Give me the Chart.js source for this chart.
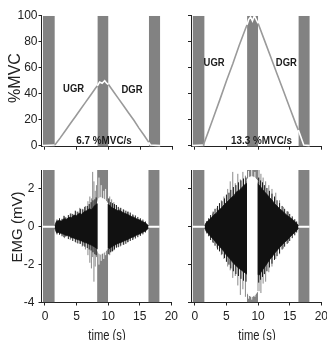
<!DOCTYPE html>
<html><head><meta charset="utf-8">
<script src="https://cdn.jsdelivr.net/npm/chart.js@4/dist/chart.umd.min.js"></script>
<style>
html,body{margin:0;padding:0;background:#fff;overflow:hidden;}
#wrap{position:relative;width:327px;height:340px;overflow:hidden;background:#fff;}
canvas{position:absolute;}
.lbl{position:absolute;color:#222;white-space:nowrap;line-height:1;transform:translate(-50%,-50%);}
.rot{transform:translate(-50%,-50%) rotate(-90deg);}
.nar{transform:translate(-50%,-50%) scaleX(0.8);}
</style></head><body>
<div id="wrap">
<canvas id="tl" width="182" height="160" style="left:0;top:0"></canvas>
<canvas id="tr" width="182" height="160" style="left:150px;top:0"></canvas>
<canvas id="bl" width="182" height="186" style="left:0;top:155px"></canvas>
<canvas id="br" width="182" height="186" style="left:150px;top:155px"></canvas>
<div class="lbl rot" style="left:14.5px;top:78px;font:16px 'Liberation Sans',Arial,sans-serif;">%MVC</div>
<div class="lbl rot" style="left:15.5px;top:227px;font:15px 'Liberation Sans',Arial,sans-serif;">EMG (mV)</div>
<div class="lbl nar" style="left:107px;top:334.5px;font:14px 'Liberation Sans',Arial,sans-serif;">time (s)</div>
<div class="lbl nar" style="left:257px;top:334.5px;font:14px 'Liberation Sans',Arial,sans-serif;">time (s)</div>
</div>
<script>
// ---------- data ----------
const xTicks = [0, 5, 10, 15, 20];
const mvcTicks = [0, 20, 40, 60, 80, 100];
const emgTicks = [-4, -2, 0, 2];
const restWindows = [[-0.35, 1.55], [8.25, 10.0], [16.35, 18.15]]; // s

// force, 6.7 %MVC/s
const forceTimeSlow = [-0.35, 1.55, 2.4, 3.2, 4.0, 4.8, 5.6, 6.4, 7.2, 8.0, 8.25, 8.6, 9.0, 9.4, 9.7, 10.0, 10.8, 11.6, 12.4, 13.2, 14.0, 14.8, 15.6, 16.35, 16.6, 18.15];
const forceSlow     = [0, 0.5, 6, 11.5, 17, 22.5, 28, 33.5, 39, 44.5, 46, 49, 48, 50, 48, 47, 41.5, 36, 30.5, 25, 19.5, 13.5, 8, 2.5, 0.5, 0];
// force, 13.3 %MVC/s
const forceTimeFast = [-0.4, 1.35, 2.0, 3.0, 4.0, 5.0, 6.0, 7.0, 8.0, 8.25, 8.5, 8.8, 9.1, 9.4, 9.7, 10.0, 11.0, 12.0, 13.0, 14.0, 15.0, 16.0, 16.35, 17.2, 18.15];
const forceFast     = [0, 0.5, 9, 22.5, 36, 50, 63, 77, 90, 93, 97, 99, 96, 100, 97, 94, 81, 68, 55, 42, 29, 16, 12, 0.5, 0];

// EMG envelopes (mV)
const emgTime = [1.55,1.8,2.2,2.6,3.0,3.4,3.8,4.2,4.6,5.0,5.4,5.8,6.2,6.6,7.0,7.4,7.8,8.2,8.6,9.0,9.4,9.8,10.2,10.6,11.0,11.4,11.8,12.2,12.6,13.0,13.4,13.8,14.2,14.6,15.0,15.4,15.8,16.2,16.45];
const emgTopSlow = [0.05,0.28,0.33,0.3,0.42,0.4,0.5,0.48,0.62,0.58,0.72,0.66,0.8,0.85,0.95,0.9,1.1,1.2,1.2,1.2,1.2,1.2,1.15,1.0,0.95,0.85,0.88,0.78,0.72,0.66,0.6,0.52,0.48,0.4,0.36,0.28,0.22,0.12,0.03];
const emgBotSlow = [-0.05,-0.3,-0.3,-0.36,-0.4,-0.46,-0.48,-0.56,-0.6,-0.66,-0.7,-0.75,-0.82,-0.86,-0.92,-0.98,-1.05,-1.15,-1.2,-1.2,-1.2,-1.2,-1.15,-1.05,-0.98,-0.9,-0.85,-0.8,-0.74,-0.68,-0.62,-0.55,-0.5,-0.42,-0.38,-0.3,-0.24,-0.14,-0.03];
const emgTopFast = [0.05,0.22,0.35,0.48,0.62,0.72,0.9,0.98,1.15,1.28,1.4,1.55,1.65,1.85,1.92,2.05,2.2,2.3,2.3,2.3,2.3,2.3,2.2,2.02,1.85,1.72,1.55,1.42,1.22,1.1,0.95,0.85,0.72,0.6,0.5,0.4,0.28,0.15,0.03];
const emgBotFast = [-0.05,-0.24,-0.38,-0.55,-0.68,-0.85,-1.0,-1.15,-1.3,-1.5,-1.62,-1.8,-1.95,-2.08,-2.2,-2.3,-2.4,-2.5,-2.5,-2.5,-2.5,-2.5,-2.55,-2.32,-2.15,-1.95,-1.75,-1.6,-1.4,-1.25,-1.1,-0.95,-0.82,-0.7,-0.55,-0.42,-0.3,-0.16,-0.03];

// dark EMG bursts just beyond the dense band [time, low, high]
const burstsSlow = [[1.9,-0.4,0.38],[2.3,-0.42,0.45],[2.7,-0.5,0.42],[3.0,-0.55,0.58],[3.3,-0.52,0.5],[3.7,-0.65,0.62],[4.1,-0.62,0.7],[4.4,-0.75,0.68],[4.8,-0.8,0.85],[5.2,-0.88,0.8],[5.6,-0.9,0.95],[6.0,-1.0,0.92],[6.3,-1.05,1.05],[6.7,-1.12,1.1],[7.0,-1.2,1.2],[7.3,-1.25,1.3],[7.6,-1.35,1.4],[7.9,-1.45,1.45],[8.1,-1.5,1.55],[10.1,-1.45,1.5],[10.4,-1.35,1.3],[10.7,-1.3,1.25],[11.0,-1.2,1.2],[11.3,-1.1,1.15],[11.6,-1.08,1.05],[12.0,-1.0,1.0],[12.4,-0.95,0.92],[12.8,-0.9,0.85],[13.1,-0.82,0.8],[13.5,-0.75,0.75],[13.9,-0.7,0.65],[14.3,-0.62,0.6],[14.7,-0.55,0.52],[15.1,-0.48,0.45],[15.5,-0.4,0.38],[15.9,-0.3,0.28]];
const burstsFast = [[1.9,-0.35,0.3],[2.2,-0.5,0.45],[2.5,-0.7,0.62],[2.9,-0.85,0.8],[3.2,-1.0,0.95],[3.6,-1.2,1.1],[3.9,-1.3,1.25],[4.3,-1.45,1.35],[4.7,-1.65,1.5],[5.0,-1.85,1.7],[5.4,-2.0,1.8],[5.7,-2.2,1.95],[6.1,-2.35,2.1],[6.5,-2.5,2.2],[6.9,-2.6,2.35],[7.3,-2.75,2.45],[7.7,-2.85,2.55],[8.1,-2.9,2.6],[10.1,-2.95,2.6],[10.4,-2.8,2.45],[10.7,-2.65,2.35],[11.0,-2.5,2.2],[11.4,-2.35,2.05],[11.8,-2.15,1.9],[12.2,-1.95,1.75],[12.6,-1.75,1.6],[13.0,-1.55,1.4],[13.4,-1.4,1.25],[13.8,-1.2,1.1],[14.2,-1.05,0.95],[14.6,-0.9,0.82],[15.0,-0.75,0.68],[15.4,-0.6,0.55],[15.8,-0.45,0.4],[16.1,-0.3,0.28]];

// large single EMG spikes [time, low, high]
const spikesSlow = [[3.1,-0.6,0.55],[4.0,-0.7,0.7],[4.9,-0.85,0.8],[5.5,-0.9,1.0],[5.9,-1.05,0.95],[6.4,-1.2,1.1],[6.8,-1.5,1.35],[7.1,-1.9,1.6],[7.35,-2.2,1.5],[7.55,-1.6,2.9],[7.75,-2.9,2.4],[7.95,-2.1,1.9],[8.15,-1.6,2.2],[10.25,-1.5,1.6],[10.55,-1.3,1.45],[10.9,-1.25,1.3],[11.3,-1.1,1.15],[11.9,-1.05,1.0],[12.5,-0.95,0.9],[13.2,-0.8,0.8],[14.0,-0.62,0.6]];
const spikesFast = [[2.8,-0.8,0.7],[3.5,-1.1,1.0],[4.2,-1.5,1.4],[4.6,-1.7,1.6],[5.2,-2.1,2.0],[5.6,-2.3,2.4],[6.0,-2.7,2.9],[6.4,-2.6,2.3],[6.8,-3.1,2.8],[7.2,-3.6,2.5],[7.6,-3.3,2.9],[8.0,-3.7,2.7],[10.15,-3.4,3.0],[10.45,-3.5,2.8],[10.8,-3.0,2.6],[11.2,-2.9,2.4],[11.7,-2.4,2.2],[12.2,-2.1,2.0],[12.8,-1.7,1.8],[13.4,-1.45,1.4],[14.0,-1.15,1.05],[14.8,-0.85,0.8]];

// EMG inside the middle rest window
const midTimeSlow = [8.3, 8.5, 8.8, 9.1, 9.4, 9.7, 9.95];
const midTopSlow  = [1.25, 1.5, 1.55, 1.5, 1.45, 1.35, 1.2];
const midBotSlow  = [-1.2, -1.4, -1.45, -1.4, -1.35, -1.25, -1.15];
const midSpikesSlow = [[8.55,-2.0,2.6],[8.9,-1.8,2.2],[9.3,-1.7,1.9],[9.6,-1.5,2.0]];
const midTimeFast = [8.25, 8.5, 9.0, 9.5, 9.95];
const midTopFast  = [2.45, 2.6, 2.65, 2.6, 2.4];
const midBotFast  = [-3.45, -3.6, -3.7, -3.6, -3.4];
const midSpikesFast = [[8.5,-3.8,2.95],[9.0,-3.85,3.0],[9.5,-3.7,2.9]];

// ---------- helpers ----------
const FONT = "'Liberation Sans', Arial, sans-serif";
const BAR = '#828282';
const AX = '#222';
const pts = (xs, ys) => xs.map((x, i) => ({x, y: ys[i]}));
const spikePts = sp => sp.flatMap(([t, lo, hi]) => [{x: t, y: lo}, {x: t, y: hi}, {x: t, y: null}]);
const inRest = t => restWindows.some(([a, b]) => t >= a && t <= b);

const annot = {
  id: 'annot',
  afterDatasetsDraw(chart, args, opts) {
    const {ctx, scales: {x, y}} = chart;
    (opts.items || []).forEach(it => {
      ctx.save();
      ctx.font = it.font;
      ctx.fillStyle = '#1a1a1a';
      ctx.textAlign = 'center';
      ctx.textBaseline = 'middle';
      const px = x.getPixelForValue(it.x), py = y.getPixelForValue(it.y);
      ctx.translate(px, py);
      ctx.scale(0.86, 1);
      ctx.fillText(it.text, 0, 0);
      ctx.restore();
    });
  }
};

function barSets(top) {
  return restWindows.map(([a, b]) => ({
    data: [{x: a, y: top}, {x: b, y: top}], showLine: true, borderWidth: 0, borderColor: BAR,
    backgroundColor: BAR, fill: 'start', order: 10
  }));
}

function forceSet(ts, vs) {
  return {
    data: pts(ts, vs), showLine: true, borderWidth: 1.6, borderColor: '#9a9a9a', fill: false, order: 1,
    segment: {borderColor: c => inRest((c.p0.parsed.x + c.p1.parsed.x) / 2) ? '#ffffff' : '#9a9a9a'}
  };
}

function emgSets(top, bot, bursts, spikes, mt, mtop, mbot, mspikes) {
  const restLine = [restWindows[0], restWindows[2]].flatMap(([a, b]) => [{x: a, y: 0}, {x: b, y: 0}, {x: b, y: null}]);
  return [
    {data: spikePts(spikes), showLine: true, borderWidth: 1, borderColor: '#8a8a8a', spanGaps: false, order: 8},
    {data: spikePts(bursts), showLine: true, borderWidth: 1, borderColor: '#1a1a1a', spanGaps: false, order: 7},
    {data: pts(emgTime, top), showLine: true, borderWidth: 0.8, borderColor: '#111', backgroundColor: '#111', fill: '+1', order: 6},
    {data: pts(emgTime, bot), showLine: true, borderWidth: 0.8, borderColor: '#111', fill: false, order: 6},
    {data: pts(mt, mtop), showLine: true, borderWidth: 1, borderColor: '#fff', backgroundColor: '#fff', fill: '+1', order: 4},
    {data: pts(mt, mbot), showLine: true, borderWidth: 1, borderColor: '#fff', fill: false, order: 4},
    {data: spikePts(mspikes), showLine: true, borderWidth: 1, borderColor: '#f4f4f4', spanGaps: false, order: 4},
    {data: restLine, showLine: true, borderWidth: 2, borderColor: '#fff', spanGaps: false, order: 2}
  ];
}

function makeChart(id, c) {
  return new Chart(document.getElementById(id), {
    type: 'scatter',
    data: {datasets: c.datasets},
    options: {
      responsive: false, animation: false, devicePixelRatio: 1, events: [],
      layout: {padding: c.padding},
      elements: {point: {radius: 0, hoverRadius: 0}, line: {tension: 0}},
      plugins: {legend: {display: false}, tooltip: {enabled: false}, annot: {items: c.annot || []}},
      scales: {
        x: {
          type: 'linear', min: c.xmin, max: 20,
          afterBuildTicks: s => { s.ticks = xTicks.map(v => ({value: v})); },
          afterFit: s => { s.height = c.xh; },
          grid: {display: true, drawOnChartArea: false, drawTicks: true, tickLength: 3, color: AX},
          border: {display: true, color: AX, width: 1},
          ticks: {display: c.xlabels, padding: 4, color: '#222', font: {family: FONT, size: 12}, maxRotation: 0, autoSkip: false}
        },
        y: {
          type: 'linear', min: c.ymin, max: c.ymax,
          afterBuildTicks: s => { s.ticks = c.yticks.map(v => ({value: v})); },
          afterFit: s => { s.width = c.yw; },
          grid: {display: true, drawOnChartArea: false, drawTicks: true, tickLength: 3, color: AX},
          border: {display: true, color: AX, width: 1},
          ticks: {display: c.ylabels, padding: c.ypad, color: '#222', font: {family: FONT, size: 12}, autoSkip: false}
        }
      }
    },
    plugins: [annot]
  });
}

const labFont = "bold 11px " + FONT;
const rateFont = "bold 11.5px " + FONT;

makeChart('tl', {
  padding: {top: 15.7, right: 10, bottom: 0, left: 0}, yw: 41.5, xh: 13.3,
  xmin: -0.55, ymin: -0.8, ymax: 100, yticks: mvcTicks, xlabels: false, ylabels: true, ypad: 1,
  datasets: [forceSet(forceTimeSlow, forceSlow), ...barSets(100)],
  annot: [{text: 'UGR', x: 4.5, y: 43.6, font: labFont}, {text: 'DGR', x: 13.7, y: 42.8, font: labFont},
          {text: '6.7 %MVC/s', x: 9.3, y: 3.5, font: rateFont}]
});
makeChart('tr', {
  padding: {top: 15.7, right: 10.5, bottom: 0, left: 0}, yw: 41, xh: 13.3,
  xmin: -0.6, ymin: -0.8, ymax: 100, yticks: mvcTicks, xlabels: false, ylabels: false, ypad: 1,
  datasets: [forceSet(forceTimeFast, forceFast), ...barSets(100)],
  annot: [{text: 'UGR', x: 3.04, y: 63.4, font: labFont}, {text: 'DGR', x: 14.45, y: 63.4, font: labFont},
          {text: '13.3 %MVC/s', x: 10.54, y: 3.8, font: rateFont}]
});
makeChart('bl', {
  padding: {top: 15, right: 10, bottom: 0, left: 0}, yw: 41.5, xh: 38.5,
  xmin: -0.55, ymin: -4, ymax: 3, yticks: emgTicks, xlabels: true, ylabels: true, ypad: 4,
  datasets: [...emgSets(emgTopSlow, emgBotSlow, burstsSlow, spikesSlow, midTimeSlow, midTopSlow, midBotSlow, midSpikesSlow), ...barSets(3)]
});
makeChart('br', {
  padding: {top: 15, right: 10.5, bottom: 0, left: 0}, yw: 41, xh: 38.5,
  xmin: -0.6, ymin: -4, ymax: 3, yticks: emgTicks, xlabels: true, ylabels: false, ypad: 4,
  datasets: [...emgSets(emgTopFast, emgBotFast, burstsFast, spikesFast, midTimeFast, midTopFast, midBotFast, midSpikesFast), ...barSets(3)]
});
</script>
</body></html>
